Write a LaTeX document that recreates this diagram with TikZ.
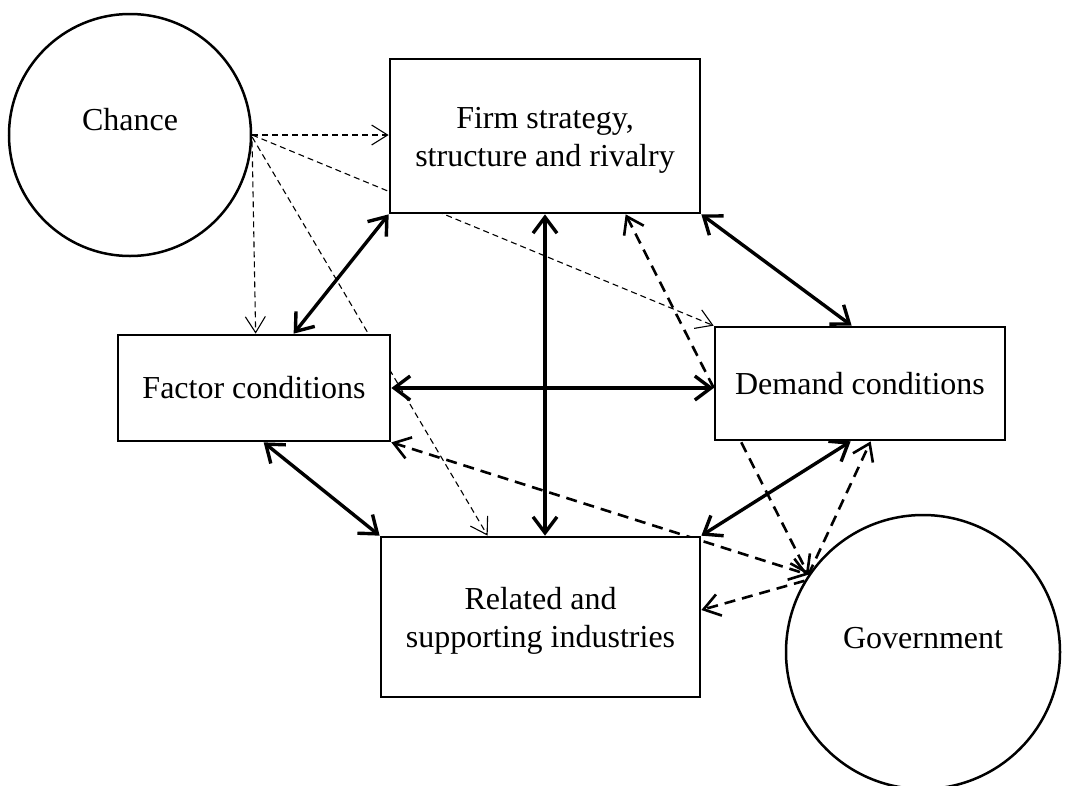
\documentclass[tikz,border=0pt]{standalone}
\usepackage{fontspec}
\setmainfont{Liberation Serif}
\usetikzlibrary{arrows.meta,positioning,calc}
\pgfdeclarelayer{bg}
\pgfsetlayers{bg,main}
\newcommand{\twolines}[2]{\smash{\raisebox{-10pt}{\begin{tabular}{@{}c@{}}#1\\#2\end{tabular}}}}
\tikzset{
  box/.style={draw, line width=2.7pt, fill=white, align=center, inner sep=0pt},
  rnd/.style={draw, circle, line width=2.5pt, fill=white, inner sep=0pt},
  both/.style={line width=3.4pt, {Straight Barb[length=16pt,width=24pt]}-{Straight Barb[length=16pt,width=24pt]}},
  gv/.style={line width=2.6pt, dash pattern=on 11pt off 7pt, -{Straight Barb[length=16pt,width=22pt]}},
  gvb/.style={gv, {Straight Barb[length=16pt,width=22pt]}-{Straight Barb[length=16pt,width=22pt]}},
  ch/.style={line width=1.1pt, dash pattern=on 6pt off 4pt, -{Straight Barb[length=16pt,width=20pt,line width=1.1pt]}}
}

\begin{document}
\begin{tikzpicture}[x=1pt, y=-1pt, font=\fontsize{32pt}{38pt}\selectfont]
  \useasboundingbox (0,0) rectangle (1071,785);
  \node[rnd, minimum size=242pt] (chance) at (130,135) {\smash{\raisebox{5pt}{Chance}}};
  \node[rnd, minimum size=274pt] (gov) at (923,652) {\smash{\raisebox{4pt}{Government}}};
  \node[box, minimum width=310pt, minimum height=154pt] (firm) at (545,136) {\twolines{Firm strategy,}{structure and rivalry}};
  \node[box, minimum width=272pt, minimum height=106pt] (factor) at (254,388) {Factor conditions};
  \node[box, minimum width=290pt, minimum height=113pt] (demand) at (860,383.5) {Demand conditions};
  \node[box, minimum width=319pt, minimum height=160pt] (related) at (540.5,617) {\twolines{Related and}{supporting industries}};

  \begin{pgfonlayer}{bg}
    \draw[ch] (chance.east) -- (chance.east -| firm.west);
    \draw[ch] (chance.east) -- (demand.north west);
    \draw[ch] (chance.-3) -- ($(factor.north west)+(139,0)$);
    \draw[ch] (chance.-1) -- ($(related.north west)+(108,0)$);

    \draw[both] ($(factor.north west)+(177,0)$) -- (firm.south west);
    \draw[both] (firm.south east) -- ($(demand.north west)+(138,0)$);
    \draw[both] (factor.east) -- (factor.east -| demand.west);
    \draw[both] (firm.south) -- (firm.south |- related.north);
    \draw[both] ($(factor.south west)+(147,0)$) -- (related.north west);
    \draw[both] ($(demand.south west)+(137,0)$) -- (related.north east);

    \draw[gvb] (factor.south east) -- (gov.146);
    \draw[gvb] ($(firm.south west)+(237,0)$) -- (gov.146);
    \draw[gv] (gov.146) -- ($(demand.south west)+(157,0)$);
    \draw[gv] (gov.149) -- ($(related.east)+(0,-7)$);
  \end{pgfonlayer}
\end{tikzpicture}
\end{document}
